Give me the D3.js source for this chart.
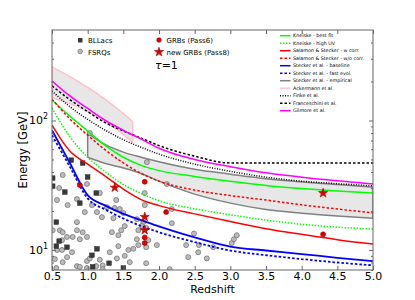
<!DOCTYPE html>
<html>
<head>
<meta charset="utf-8">
<script src="https://cdn.jsdelivr.net/npm/d3@7"></script>
<style>
body { margin: 0; background: #fff; }
text { font-family: "DejaVu Sans", sans-serif; }
</style>
</head>
<body>
<div id="chart"></div>
<script>
var width = 415, height = 300;
var margin = {left: 52, top: 30, right: 42, bottom: 30};

// redshift grid used by the model curves
var zGrid = [0.5, 0.75, 1.0, 1.25, 1.5, 1.75, 2.0, 2.5, 3.0, 3.5, 4.0, 4.5, 5.0];
var kneiskeBest  = [144, 108, 83, 64, 52, 45, 41, 37, 34, 31.5, 29.8, 28.5, 27.5];
var kneiskeHigh  = [125, 75, 52, 40, 32, 27.3, 24, 20.8, 18.7, 17, 15.8, 15, 14.5];
var salamonW     = [92, 58, 46, 37, 29.5, 24.5, 22, 19, 16.6, 14.6, 13.2, 12, 11.1];
var salamonWo    = [146, 103, 77, 59, 47, 39, 34, 29, 26.3, 24.3, 22.3, 20.7, 19.3];
var steckerBase  = [84, 47, 26.5, 22, 19, 17, 15.2, 12.5, 10.6, 9.9, 9.3, 8.7, 8.2];
var steckerFast  = [77, 44, 25, 20.5, 17.5, 15.3, 13.7, 11.5, 9.9, 9.1, 8.5, 8.0, 7.6];
var finke        = [169, 128, 102, 84, 71, 62, 55, 46, 40.5, 36.5, 34, 32.5, 31.3];
var franceschini = [185, 145, 117, 96, 83, 73, 64, 53, 47, 47, 47, 47, 47];
var gilmore      = [202, 155, 124, 100, 84, 72, 61, 50, 44, 39.5, 36.5, 34.2, 32.3];

// Stecker et al. empirical band
var empZ     = [1.0, 1.25, 1.5, 1.75, 2.0, 2.5, 3.0, 3.5, 4.0, 4.5, 5.0];
var empUpper = [80, 65, 57, 52, 48, 42, 38.5, 35.5, 33.5, 32, 30.6];
var empLower = [52, 46.5, 43, 39, 34, 27, 23, 20.5, 19.2, 18.3, 17.6];

// Ackermann et al. band
var ackZ     = [0.5, 0.75, 1.0, 1.25, 1.5, 1.63];
var ackUpper = [260, 218, 180, 145, 113, 98];
var ackLower = [150, 135, 118, 98, 78, 68];

// sources [redshift, energy GeV]
var bllacs = [[0.51,35.9],[0.51,31.1],[0.68,28.0],[0.77,49.4],[0.93,46.9],[1.00,36.6],
  [0.89,23.0],[1.12,27.5],[0.56,16.4],[0.60,11.7],[0.56,10.7],[0.71,10.5],[1.13,10.2],
  [1.06,9.1],[1.30,7.9],[1.50,7.25],[1.07,7.4]];
var fsrqs = [[0.65,37.9],[0.99,32.3],[0.60,30.1],[0.85,24.7],[1.06,22.2],[1.17,27.5],
  [1.40,24.3],[1.27,21.4],[1.38,21.1],[1.45,20.7],[0.96,19.6],[1.13,19.6],[1.20,17.9],
  [1.36,17.6],[1.50,19.3],[1.69,17.3],[1.52,15.3],[1.47,14.2],[1.34,13.7],[1.43,13.0],
  [1.71,14.2],[0.51,14.2],[0.61,14.2],[0.65,13.7],[0.85,16.4],[0.85,14.2],[0.93,13.7],
  [0.79,12.6],[0.89,12.1],[0.71,12.6],[0.99,12.6],[0.57,10.0],[0.64,10.0],[0.71,8.8],
  [0.54,8.5],[0.78,9.6],[0.85,7.5],[0.89,7.4],[0.99,8.2],[1.03,8.6],[1.12,7.5],[1.17,8.4],
  [1.21,7.6],[1.41,8.6],[1.52,9.0],[1.57,10.0],[1.64,10.2],[1.69,12.1],[0.56,7.25],
  [0.99,7.25],[1.21,7.1],[0.65,8.05],[0.72,22.2],[0.57,24.3],[1.71,10.9],[1.59,8.05],
  [1.31,9.6],[1.43,10.7],[0.64,11.9],[1.03,80],
  [1.83,47.7],[2.11,32.3],[1.80,27.5],[1.80,22.2],[2.18,20.7],[2.18,16.1],[1.78,16.4],
  [1.76,15.3],[1.82,14.8],[1.85,11.9],[1.82,10.5],[1.97,10.9],[2.49,13.4],[2.38,10.9],
  [2.56,10.9],[2.55,9.6],[2.41,8.8],[2.67,8.6],[2.76,10.5],[3.02,11.3],[3.05,12.1],
  [3.09,13.0],[1.82,7.9],[2.15,7.1]];
var grbPass6 = [[0.89,31.7],[1.80,33.6],[2.10,19.6],[1.80,12.5],[1.80,11.3],[4.30,13.2]];
var grbPass8 = [[1.38,30.3],[1.80,18.0],[1.80,14.2],[4.30,27.5]];

var xTicks = [0.5, 1.0, 1.5, 2.0, 2.5, 3.0, 3.5, 4.0, 4.5, 5.0];
var yMajor = [10, 100];
var yMinor = [7, 8, 9, 20, 30, 40, 50, 60, 70, 80, 90, 200, 300, 400];

var models = [
  {name: "Kneiske - best fit", e: kneiskeBest, color: "#00ff00", dash: null},
  {name: "Kneiske - high UV", e: kneiskeHigh, color: "#00ff00", dash: "1.5,1.5"},
  {name: "Salamon & Stecker - w corr.", e: salamonW, color: "#ff0000", dash: null},
  {name: "Salamon & Stecker - w/o corr.", e: salamonWo, color: "#ff0000", dash: "2.5,2"},
  {name: "Stecker et al. - baseline", e: steckerBase, color: "#0000ff", dash: null},
  {name: "Stecker et al. - fast evol.", e: steckerFast, color: "#0000ff", dash: "2.5,2"},
  {name: "Stecker et al. - empirical", e: null, color: "#808080", dash: null},
  {name: "Ackermann et al.", e: null, color: "#ffc0cb", dash: null},
  {name: "Finke et al.", e: finke, color: "#000000", dash: "1,1.5"},
  {name: "Franceschini et al.", e: franceschini, color: "#000000", dash: "2.5,2"},
  {name: "Gilmore et al.", e: gilmore, color: "#ff00ff", dash: null}
];

var svg = d3.select("#chart").append("svg")
    .attr("width", width).attr("height", height);

var x = d3.scaleLinear().domain([0.5, 5.0]).range([margin.left, width - margin.right]);
var y = d3.scaleLog().domain([7, 500]).range([height - margin.bottom, margin.top]);

svg.append("clipPath").attr("id", "plot")
  .append("rect")
    .attr("x", margin.left).attr("y", margin.top)
    .attr("width", x.range()[1] - margin.left)
    .attr("height", y.range()[0] - margin.top);

var g = svg.append("g").attr("clip-path", "url(#plot)");

function band(zs, up, lo) {
  return d3.area()
    .x(function(d, i){ return x(zs[i]); })
    .y0(function(d, i){ return y(lo[i]); })
    .y1(function(d, i){ return y(up[i]); })
    .curve(d3.curveMonotoneX)(zs);
}

// bands
g.append("path").attr("d", band(ackZ, ackUpper, ackLower))
  .attr("fill", "#d3d3d3").attr("fill-opacity", 0.55)
  .attr("stroke", "#ffc0cb").attr("stroke-width", 1.5);
g.append("path").attr("d", band(empZ, empUpper, empLower))
  .attr("fill", "#d3d3d3").attr("fill-opacity", 0.55)
  .attr("stroke", "#808080").attr("stroke-width", 1.5);

// sources
g.selectAll(".fsrq").data(fsrqs).enter().append("circle")
  .attr("cx", function(d){ return x(d[0]); })
  .attr("cy", function(d){ return y(d[1]); })
  .attr("r", 2.5)
  .attr("fill", "#bcbcbc").attr("stroke", "#6a6a6a").attr("stroke-width", 0.7);
g.selectAll(".bll").data(bllacs).enter().append("rect")
  .attr("x", function(d){ return x(d[0]) - 2.3; })
  .attr("y", function(d){ return y(d[1]) - 2.3; })
  .attr("width", 4.6).attr("height", 4.6)
  .attr("fill", "#3a3a3a").attr("stroke", "#222").attr("stroke-width", 0.5);

// model curves
var line = d3.line()
  .x(function(d){ return x(d[0]); })
  .y(function(d){ return y(d[1]); })
  .curve(d3.curveMonotoneX);

models.forEach(function(m){
  if (!m.e) return;
  g.append("path")
    .attr("d", line(zGrid.map(function(z, i){ return [z, m.e[i]]; })))
    .attr("fill", "none")
    .attr("stroke", m.color)
    .attr("stroke-width", m.color == "#0000ff" ? 1.8 : 1.5)
    .attr("stroke-dasharray", m.dash);
});

// GRBs
g.selectAll(".p6").data(grbPass6).enter().append("circle")
  .attr("cx", function(d){ return x(d[0]); })
  .attr("cy", function(d){ return y(d[1]); })
  .attr("r", 2.5)
  .attr("fill", "#e00000").attr("stroke", "#900").attr("stroke-width", 0.6);
var star = d3.symbol().type(d3.symbolStar).size(26);
g.selectAll(".p8").data(grbPass8).enter().append("path")
  .attr("d", star)
  .attr("transform", function(d){ return "translate(" + x(d[0]) + "," + y(d[1]) + ")"; })
  .attr("fill", "#e00000").attr("stroke", "#900").attr("stroke-width", 0.6);

// axes: inward ticks on all four sides
var x0 = x.range()[0], x1 = x.range()[1], y0 = y.range()[0], y1 = y.range()[1];
var axisColor = "#666";

var xb = svg.append("g").attr("transform", "translate(0," + y0 + ")")
  .call(d3.axisBottom(x).tickValues(xTicks).tickSize(-4).tickPadding(2)
        .tickFormat(d3.format(".1f")));
var xt = svg.append("g").attr("transform", "translate(0," + y1 + ")")
  .call(d3.axisTop(x).tickValues(xTicks).tickSize(-4).tickFormat(""));
var yl = svg.append("g").attr("transform", "translate(" + x0 + ",0)")
  .call(d3.axisLeft(y).tickValues(yMajor).tickSize(-4).tickFormat(""));
var ylm = svg.append("g").attr("transform", "translate(" + x0 + ",0)")
  .call(d3.axisLeft(y).tickValues(yMinor).tickSize(-2).tickFormat(""));
var yr = svg.append("g").attr("transform", "translate(" + x1 + ",0)")
  .call(d3.axisRight(y).tickValues(yMajor).tickSize(-4).tickFormat(""));
var yrm = svg.append("g").attr("transform", "translate(" + x1 + ",0)")
  .call(d3.axisRight(y).tickValues(yMinor).tickSize(-2).tickFormat(""));

[xb, xt, yl, ylm, yr, yrm].forEach(function(a){
  a.select(".domain").remove();
  a.selectAll("line").attr("stroke", axisColor);
});
xb.selectAll("text").attr("font-size", 11).attr("fill", "#000")
  .attr("font-family", "DejaVu Sans");

svg.append("rect")
  .attr("x", x0).attr("y", y1).attr("width", x1 - x0).attr("height", y0 - y1)
  .attr("fill", "none").attr("stroke", axisColor).attr("stroke-width", 1);

// y tick labels 10^n
yMajor.forEach(function(v){
  var t = svg.append("text")
    .attr("x", x0 - 4).attr("y", y(v) + 4)
    .attr("text-anchor", "end").attr("font-size", 11);
  t.append("tspan").text("10");
  t.append("tspan").attr("dy", -5).attr("font-size", 8).text(Math.round(Math.log10(v)));
});

svg.append("text")
  .attr("x", (x0 + x1) / 2).attr("y", 293)
  .attr("text-anchor", "middle").attr("font-size", 11)
  .text("Redshift");
svg.append("text")
  .attr("transform", "translate(27," + ((y0 + y1) / 2) + ") rotate(-90)")
  .attr("text-anchor", "middle").attr("font-size", 11.5)
  .text("Energy [GeV]");

// legend: sources
svg.append("rect").attr("x", 78).attr("y", 38).attr("width", 4.5).attr("height", 4.5)
  .attr("fill", "#3a3a3a");
svg.append("circle").attr("cx", 80.2).attr("cy", 51.5).attr("r", 2.3)
  .attr("fill", "#bcbcbc").attr("stroke", "#6a6a6a").attr("stroke-width", 0.7);
svg.append("text").attr("x", 88).attr("y", 43).attr("font-size", 7).text("BLLacs");
svg.append("text").attr("x", 88).attr("y", 54.5).attr("font-size", 7).text("FSRQs");

// legend: GRBs
svg.append("circle").attr("cx", 159).attr("cy", 40).attr("r", 2.3)
  .attr("fill", "#e00000").attr("stroke", "#900").attr("stroke-width", 0.6);
svg.append("path").attr("d", star).attr("transform", "translate(159,52)")
  .attr("fill", "#e00000").attr("stroke", "#900").attr("stroke-width", 0.6);
svg.append("text").attr("x", 166.5).attr("y", 43).attr("font-size", 7).text("GRBs (Pass6)");
svg.append("text").attr("x", 166.5).attr("y", 54.5).attr("font-size", 7).text("new GRBs (Pass8)");

var tau = svg.append("text").attr("x", 155).attr("y", 69)
  .attr("font-size", 11).attr("font-family", "DejaVu Serif");
tau.append("tspan").attr("font-style", "italic").text("τ");
tau.append("tspan").text("=1");

// legend: models
var leg = svg.append("g").selectAll("g").data(models).enter().append("g")
  .attr("transform", function(d, i){ return "translate(280," + (35.7 + i * 7.5) + ")"; });
leg.append("line").attr("x1", 0).attr("x2", 10.5)
  .attr("stroke", function(d){ return d.color; })
  .attr("stroke-width", 1.5)
  .attr("stroke-dasharray", function(d){ return d.dash; });
leg.append("text").attr("x", 13).attr("y", 1.7).attr("font-size", 4.8)
  .text(function(d){ return d.name; });
</script>
</body>
</html>
